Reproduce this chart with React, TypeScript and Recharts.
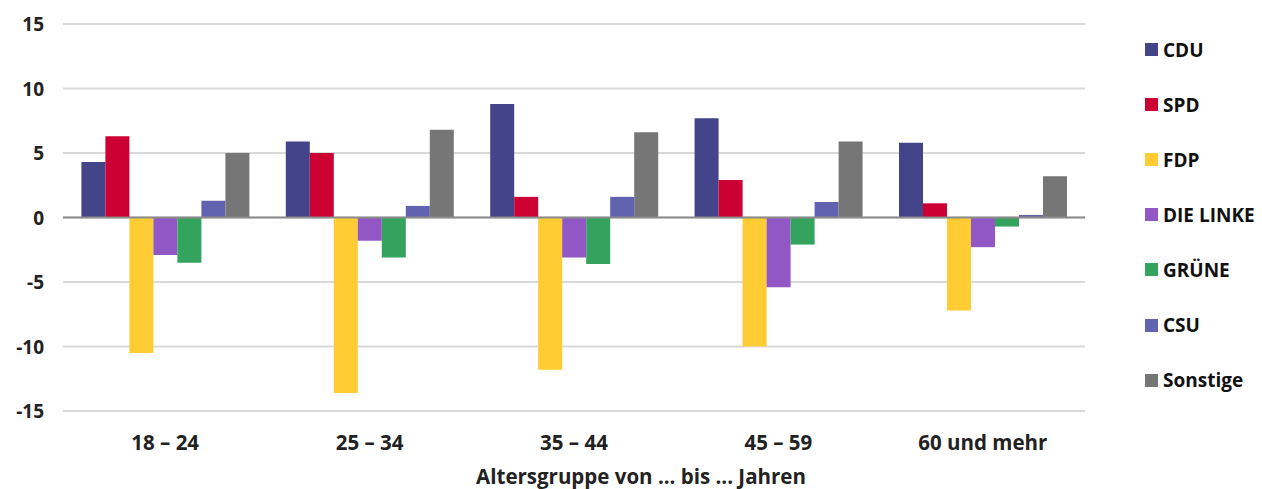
import React from "react";
import { BarChart, Bar, XAxis, YAxis, CartesianGrid, ReferenceLine } from "recharts";

const categories = ["18 – 24", "25 – 34", "35 – 44", "45 – 59", "60 und mehr"];
const cdu = [4.3, 5.9, 8.8, 7.7, 5.8];
const spd = [6.3, 5.0, 1.6, 2.9, 1.1];
const fdp = [-10.5, -13.6, -11.8, -10.0, -7.2];
const linke = [-2.9, -1.8, -3.1, -5.4, -2.3];
const gruene = [-3.5, -3.1, -3.6, -2.1, -0.7];
const csu = [1.3, 0.9, 1.6, 1.2, 0.2];
const sonstige = [5.0, 6.8, 6.6, 5.9, 3.2];
const yTicks = [-15, -10, -5, 0, 5, 10, 15];

const seriesDefs = [
  { key: "CDU", values: cdu, color: "#43448A" },
  { key: "SPD", values: spd, color: "#CC0033" },
  { key: "FDP", values: fdp, color: "#FFCC33" },
  { key: "DIE LINKE", values: linke, color: "#9057C5" },
  { key: "GRÜNE", values: gruene, color: "#33A35D" },
  { key: "CSU", values: csu, color: "#6263B0" },
  { key: "Sonstige", values: sonstige, color: "#767676" },
];

const data = categories.map((c, i) => {
  const row: Record<string, any> = { cat: c };
  seriesDefs.forEach((s) => (row[s.key] = s.values[i]));
  return row;
});

const FONT = "'Open Sans', sans-serif";
const FS = 19;

const YTick = (props: any) => {
  const { y, payload } = props;
  return (
    <text x={44} y={y} dy={7} textAnchor="end" fontFamily={FONT} fontWeight={700} fontSize={FS} fill="#222">
      {payload.value}
    </text>
  );
};

const XTick = (props: any) => {
  const { x, y, payload } = props;
  return (
    <text x={x} y={y} dy={31} textAnchor="middle" fontFamily={FONT} fontWeight={700} fontSize={20.5} fill="#222">
      {payload.value}
    </text>
  );
};

const AxisTitle = (props: any) => {
  const vb = props.viewBox || {};
  const cx = (vb.x || 0) + (vb.width || 0) / 2 + 67;
  return (
    <text x={cx} y={484} textAnchor="middle" fontFamily={FONT} fontWeight={700} fontSize={20.5} fill="#222">
      Altersgruppe von ... bis ... Jahren
    </text>
  );
};

export default function App() {
  return (
    <div style={{ position: "absolute", left: 0, top: 0, width: 1262, height: 489, background: "#fff" }}>
      <BarChart
        width={1262}
        height={489}
        data={data}
        margin={{ top: 24, right: 177, bottom: 0, left: 0 }}
        barCategoryGap="9%"
        barGap={0}
      >
        <CartesianGrid horizontal vertical={false} stroke="#d9d9d9" strokeWidth={2} />
        <XAxis
          dataKey="cat"
          height={78}
          axisLine={false}
          tickLine={false}
          tick={<XTick />}
          interval={0}
          label={<AxisTitle />}
        />
        <YAxis
          width={63}
          domain={[-15, 15]}
          ticks={yTicks}
          axisLine={false}
          tickLine={false}
          tick={<YTick />}
          interval={0}
        />
        <ReferenceLine y={0} stroke="#8c8c8c" strokeWidth={2} />
        {seriesDefs.map((s) => (
          <Bar key={s.key} dataKey={s.key} fill={s.color} isAnimationActive={false} />
        ))}
      </BarChart>
      <div
        style={{
          position: "absolute",
          left: 1145,
          top: 22,
          fontFamily: FONT,
          fontWeight: 700,
          fontSize: FS,
          color: "#111",
        }}
      >
        {seriesDefs.map((s) => (
          <div key={s.key} style={{ display: "flex", alignItems: "center", height: 55.1, whiteSpace: "nowrap" }}>
            <span style={{ width: 13, height: 13, background: s.color, display: "inline-block", marginRight: 5 }} />
            <span>{s.key}</span>
          </div>
        ))}
      </div>
    </div>
  );
}
